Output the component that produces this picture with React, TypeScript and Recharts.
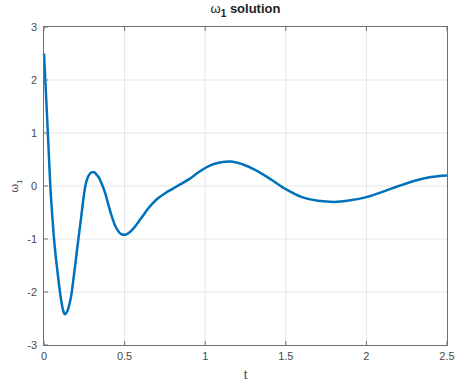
import { LineChart, Line, XAxis, YAxis, ReferenceLine } from 'recharts'

// sampled solution of omega_1 over time
const T = [
  0, 0.01, 0.02, 0.03, 0.04, 0.05, 0.06, 0.07, 0.08, 0.09, 0.1, 0.11, 0.12, 0.13, 0.14, 0.15,
  0.16, 0.17, 0.18, 0.19, 0.2, 0.21, 0.22, 0.23, 0.24, 0.25, 0.26, 0.27, 0.28, 0.29, 0.3, 0.31,
  0.32, 0.33, 0.34, 0.35, 0.36, 0.37, 0.38, 0.4, 0.42, 0.44, 0.46, 0.48, 0.5, 0.52, 0.55, 0.6,
  0.65, 0.7, 0.75, 0.8, 0.85, 0.9, 0.95, 1.0, 1.05, 1.1, 1.15, 1.2, 1.3, 1.4, 1.5, 1.6, 1.7,
  1.8, 1.9, 2.0, 2.1, 2.2, 2.3, 2.4, 2.5,
]
const OMEGA1 = [
  2.5, 1.88, 1.25, 0.6, -0.05, -0.5, -0.92, -1.25, -1.52, -1.78, -2.02, -2.22, -2.36, -2.42,
  -2.39, -2.32, -2.2, -2.05, -1.82, -1.58, -1.33, -1.08, -0.84, -0.6, -0.35, -0.12, 0.05, 0.15,
  0.21, 0.25, 0.26, 0.26, 0.24, 0.2, 0.16, 0.1, 0.03, -0.05, -0.14, -0.36, -0.57, -0.74, -0.85,
  -0.91, -0.92, -0.9, -0.82, -0.62, -0.41, -0.25, -0.14, -0.05, 0.04, 0.13, 0.24, 0.34, 0.41,
  0.45, 0.46, 0.44, 0.32, 0.14, -0.06, -0.21, -0.28, -0.3, -0.27, -0.21, -0.11, 0.0, 0.1, 0.17,
  0.2,
]
const X_TICKS = [0, 0.5, 1, 1.5, 2, 2.5]
const Y_TICKS = [-3, -2, -1, 0, 1, 2, 3]

const data = T.map((t, i) => ({ t, w: OMEGA1[i] }))

const AXIS = '#707070'
const GRID = '#e6e6e6'
const TEXT = '#4a4a4a'
const FONT = 'Liberation Sans, Arial, sans-serif'

// MATLAB-style ticks: short marks pointing into the plot box
const BottomTick = ({ x, y, payload }: any) => (
  <g>
    <line x1={x} x2={x} y1={y} y2={y - 4} stroke={AXIS} />
    <text x={x} y={y + 15} textAnchor="middle" fontSize={11} fill={TEXT} fontFamily={FONT}>
      {payload.value}
    </text>
  </g>
)
const TopTick = ({ x, y }: any) => <line x1={x} x2={x} y1={y} y2={y + 4} stroke={AXIS} />
const LeftTick = ({ x, y, payload }: any) => (
  <g>
    <line x1={x} x2={x + 4} y1={y} y2={y} stroke={AXIS} />
    <text x={x - 7} y={y + 4} textAnchor="end" fontSize={11} fill={TEXT} fontFamily={FONT}>
      {payload.value}
    </text>
  </g>
)
const RightTick = ({ x, y }: any) => <line x1={x} x2={x - 4} y1={y} y2={y} stroke={AXIS} />

export default function App() {
  const innerX = X_TICKS.slice(1, -1)
  const innerY = Y_TICKS.slice(1, -1)
  return (
    <div style={{ position: 'absolute', left: 0, top: 0, width: 455, height: 388, background: '#fff' }}>
      <div
        style={{
          position: 'absolute', left: 44, width: 403, top: 1, textAlign: 'center',
          fontFamily: FONT, fontWeight: 'bold', fontSize: 13, color: '#222',
        }}
      >
        <span style={{ fontWeight: 'normal' }}>ω</span>
        <sub style={{ fontSize: 10 }}>1</sub> solution
      </div>
      <div
        style={{
          position: 'absolute', left: 44, width: 403, top: 367, textAlign: 'center',
          fontFamily: FONT, fontSize: 13, color: TEXT,
        }}
      >
        t
      </div>
      <div
        style={{
          position: 'absolute', left: 6, top: 186, transform: 'translate(-50%, -50%) rotate(-90deg)',
          fontFamily: FONT, fontSize: 11, color: TEXT, whiteSpace: 'nowrap', marginLeft: 10,
        }}
      >
        ω<sub style={{ fontSize: 8 }}>1</sub>
      </div>
      <LineChart width={455} height={388} data={data} margin={{ top: 26, right: 7, left: 0, bottom: 0 }}>
        <XAxis
          xAxisId="b" dataKey="t" type="number" domain={[0, 2.5]} ticks={X_TICKS}
          height={43} axisLine={false} tickSize={0} tickMargin={0} tick={<BottomTick />} interval={0}
        />
        <XAxis
          xAxisId="top" orientation="top" dataKey="t" type="number" domain={[0, 2.5]} ticks={X_TICKS}
          height={1} axisLine={false} tickSize={0} tickMargin={0} tick={<TopTick />} interval={0}
        />
        <YAxis
          yAxisId="l" type="number" domain={[-3, 3]} ticks={Y_TICKS} width={44}
          axisLine={false} tickSize={0} tickMargin={0} tick={<LeftTick />} interval={0}
        />
        <YAxis
          yAxisId="r" orientation="right" type="number" domain={[-3, 3]} ticks={Y_TICKS} width={1}
          axisLine={false} tickSize={0} tickMargin={0} tick={<RightTick />} interval={0}
        />
        {/* grid */}
        {innerX.map((v) => (
          <ReferenceLine key={`gx${v}`} xAxisId="b" yAxisId="l" x={v} stroke={GRID} />
        ))}
        {innerY.map((v) => (
          <ReferenceLine key={`gy${v}`} xAxisId="b" yAxisId="l" y={v} stroke={GRID} />
        ))}
        <Line
          xAxisId="b" yAxisId="l" dataKey="w" type="monotone" stroke="#0072bd" strokeWidth={2.5}
          dot={false} isAnimationActive={false}
        />
      </LineChart>
      {/* axes box, drawn over the plot */}
      <div
        style={{
          position: 'absolute', left: 43, top: 26, width: 403, height: 318, pointerEvents: 'none',
          border: `1px solid ${AXIS}`, zIndex: 2,
        }}
      />
    </div>
  )
}
